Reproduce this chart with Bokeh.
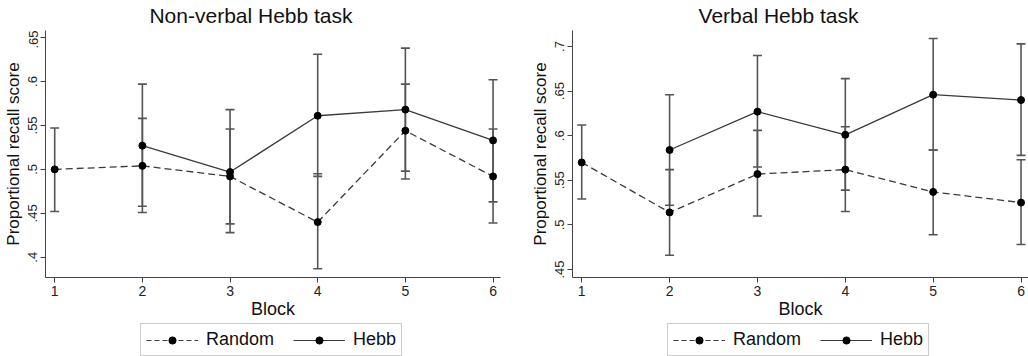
import math
from bokeh.plotting import figure
from bokeh.models import (ColumnDataSource, Whisker, TeeHead, FixedTicker,
                          Legend, LegendItem, Range1d, Label)
from bokeh.layouts import row, column
from bokeh.embed import file_html
from bokeh.resources import INLINE

# ---------------- data ----------------
blocks = [1, 2, 3, 4, 5, 6]
hebb_blocks = [2, 3, 4, 5, 6]
block_labels = ["1", "2", "3", "4", "5", "6"]
series_names = ["Random", "Hebb"]
titles = ["Non-verbal Hebb task", "Verbal Hebb task"]

# Non-verbal Hebb task
nv_random = [0.500, 0.504, 0.492, 0.440, 0.544, 0.492]
nv_random_lo = [0.452, 0.451, 0.438, 0.387, 0.489, 0.439]
nv_random_hi = [0.547, 0.558, 0.546, 0.495, 0.597, 0.546]
nv_hebb = [0.527, 0.497, 0.561, 0.568, 0.533]
nv_hebb_lo = [0.458, 0.428, 0.492, 0.498, 0.463]
nv_hebb_hi = [0.597, 0.568, 0.631, 0.638, 0.602]
nv_yticks = [0.40, 0.45, 0.50, 0.55, 0.60, 0.65]
nv_ytick_labels = [".4", ".45", ".5", ".55", ".6", ".65"]

# Verbal Hebb task
v_random = [0.570, 0.514, 0.557, 0.562, 0.537, 0.525]
v_random_lo = [0.529, 0.466, 0.510, 0.515, 0.489, 0.478]
v_random_hi = [0.612, 0.562, 0.606, 0.610, 0.584, 0.573]
v_hebb = [0.584, 0.627, 0.601, 0.646, 0.640]
v_hebb_lo = [0.522, 0.565, 0.539, 0.584, 0.578]
v_hebb_hi = [0.646, 0.690, 0.664, 0.709, 0.703]
v_yticks = [0.45, 0.50, 0.55, 0.60, 0.65, 0.70]
v_ytick_labels = [".45", ".5", ".55", ".6", ".65", ".7"]

FONT = "Liberation Sans"
LINE_C = "#3a3a3a"
BAR_C = "#555555"
AXIS_C = "#444444"
DASH = "7 4"


def make_title(text):
    tp = figure(width=514, height=30, output_backend="svg", toolbar_location=None,
                x_range=Range1d(0, 1), y_range=Range1d(0, 1), title=None,
                x_axis_location=None, y_axis_location=None,
                min_border_left=0, min_border_right=0,
                min_border_top=0, min_border_bottom=0)
    tp.grid.visible = False
    tp.outline_line_color = None
    tp.add_layout(Label(x=0.5, y=15, y_units="screen", x_offset=-22, text=text,
                        text_align="center", text_baseline="middle",
                        text_font=FONT, text_font_size="21px",
                        text_color="#111111"))
    return tp


def make_panel(rnd, rnd_lo, rnd_hi, hb, hb_lo, hb_hi, yticks, ylabels,
               yrange, border_left, border_right):
    p = figure(width=514, height=293, output_backend="svg", toolbar_location=None,
               x_range=Range1d(0.895, 6.085), y_range=Range1d(*yrange), title=None,
               min_border_left=border_left, min_border_right=border_right,
               min_border_top=0, min_border_bottom=46)

    p.outline_line_color = None
    p.xgrid.grid_line_color = None
    p.ygrid.grid_line_color = None

    src_r = ColumnDataSource(dict(x=blocks, y=rnd, lo=rnd_lo, hi=rnd_hi))
    src_h = ColumnDataSource(dict(x=hebb_blocks, y=hb, lo=hb_lo, hi=hb_hi))

    for src in (src_r, src_h):
        w = Whisker(source=src, base="x", upper="hi", lower="lo",
                    line_color=BAR_C, line_width=1.6,
                    upper_head=TeeHead(size=9, line_color=BAR_C, line_width=1.6),
                    lower_head=TeeHead(size=9, line_color=BAR_C, line_width=1.6))
        p.add_layout(w)

    p.line("x", "y", source=src_r, line_color=LINE_C, line_width=1.3,
           line_dash=DASH)
    p.scatter("x", "y", source=src_r, size=7, color="black")
    p.line("x", "y", source=src_h, line_color=LINE_C, line_width=1.3)
    p.scatter("x", "y", source=src_h, size=7, color="black")

    # axes
    p.xaxis.ticker = FixedTicker(ticks=blocks)
    p.xaxis.major_label_overrides = {b: l for b, l in zip(blocks, block_labels)}
    p.yaxis.ticker = FixedTicker(ticks=yticks)
    p.yaxis.major_label_overrides = {t: l for t, l in zip(yticks, ylabels)}
    p.yaxis.major_label_orientation = "vertical"
    for ax in (p.xaxis, p.yaxis):
        ax.axis_line_color = AXIS_C
        ax.major_tick_line_color = AXIS_C
        ax.minor_tick_line_color = None
        ax.major_tick_in = 0
        ax.major_tick_out = 5
        ax.major_label_text_font = FONT
        ax.major_label_text_color = "#222222"
        ax.axis_label_text_font = FONT
        ax.axis_label_text_font_style = "normal"
        ax.axis_label_text_color = "#111111"
        ax.major_label_standoff = 3
        ax.axis_label_standoff = 3
    p.xaxis.major_label_text_font_size = "14px"
    p.yaxis.major_label_text_font_size = "13px"
    p.xaxis.axis_label = "Block"
    p.xaxis.axis_label_text_font_size = "18px"
    p.xaxis.axis_label_standoff = 0
    p.yaxis.axis_label = "Proportional recall score"
    p.yaxis.axis_label_text_font_size = "17px"
    return p


def make_legend(x_left):
    lp = figure(width=514, height=33, output_backend="svg", toolbar_location=None,
                x_range=Range1d(0, 1), y_range=Range1d(0, 1), title=None,
                x_axis_location=None, y_axis_location=None,
                min_border_left=0, min_border_right=0,
                min_border_top=0, min_border_bottom=0)
    lp.grid.visible = False
    lp.outline_line_color = None
    # off-screen sample marks so that the legend glyphs get drawn
    off_x = [-5, -4]
    off_y = [-5, -4]
    lr = lp.line(x=off_x, y=off_y, line_color=LINE_C, line_width=1.2, line_dash="5 3")
    sr = lp.scatter(x=off_x, y=off_y, size=6, color="black")
    lh = lp.line(x=off_x, y=off_y, line_color=LINE_C, line_width=1.2)
    sh = lp.scatter(x=off_x, y=off_y, size=6, color="black")
    legend = Legend(items=[LegendItem(label=series_names[0], renderers=[lr, sr]),
                           LegendItem(label=series_names[1], renderers=[lh, sh])],
                    orientation="horizontal", location=(x_left, 0),
                    glyph_width=52, glyph_height=18, label_standoff=8,
                    spacing=19, padding=5, margin=0,
                    label_text_font=FONT, label_text_font_size="18px",
                    label_text_color="#111111",
                    border_line_color="#999999", border_line_width=1,
                    background_fill_alpha=1.0)
    lp.add_layout(legend, "center")
    return lp


p1 = make_panel(nv_random, nv_random_lo, nv_random_hi,
                nv_hebb, nv_hebb_lo, nv_hebb_hi, nv_yticks, nv_ytick_labels,
                (0.377, 0.658), 44, 14)
p2 = make_panel(v_random, v_random_lo, v_random_hi,
                v_hebb, v_hebb_lo, v_hebb_hi, v_yticks, v_ytick_labels,
                (0.441, 0.718), 58, 0)

layout = row(column(make_title(titles[0]), p1, make_legend(95)),
             column(make_title(titles[1]), p2, make_legend(95)))
open("out.html", "w").write(file_html(layout, INLINE))
